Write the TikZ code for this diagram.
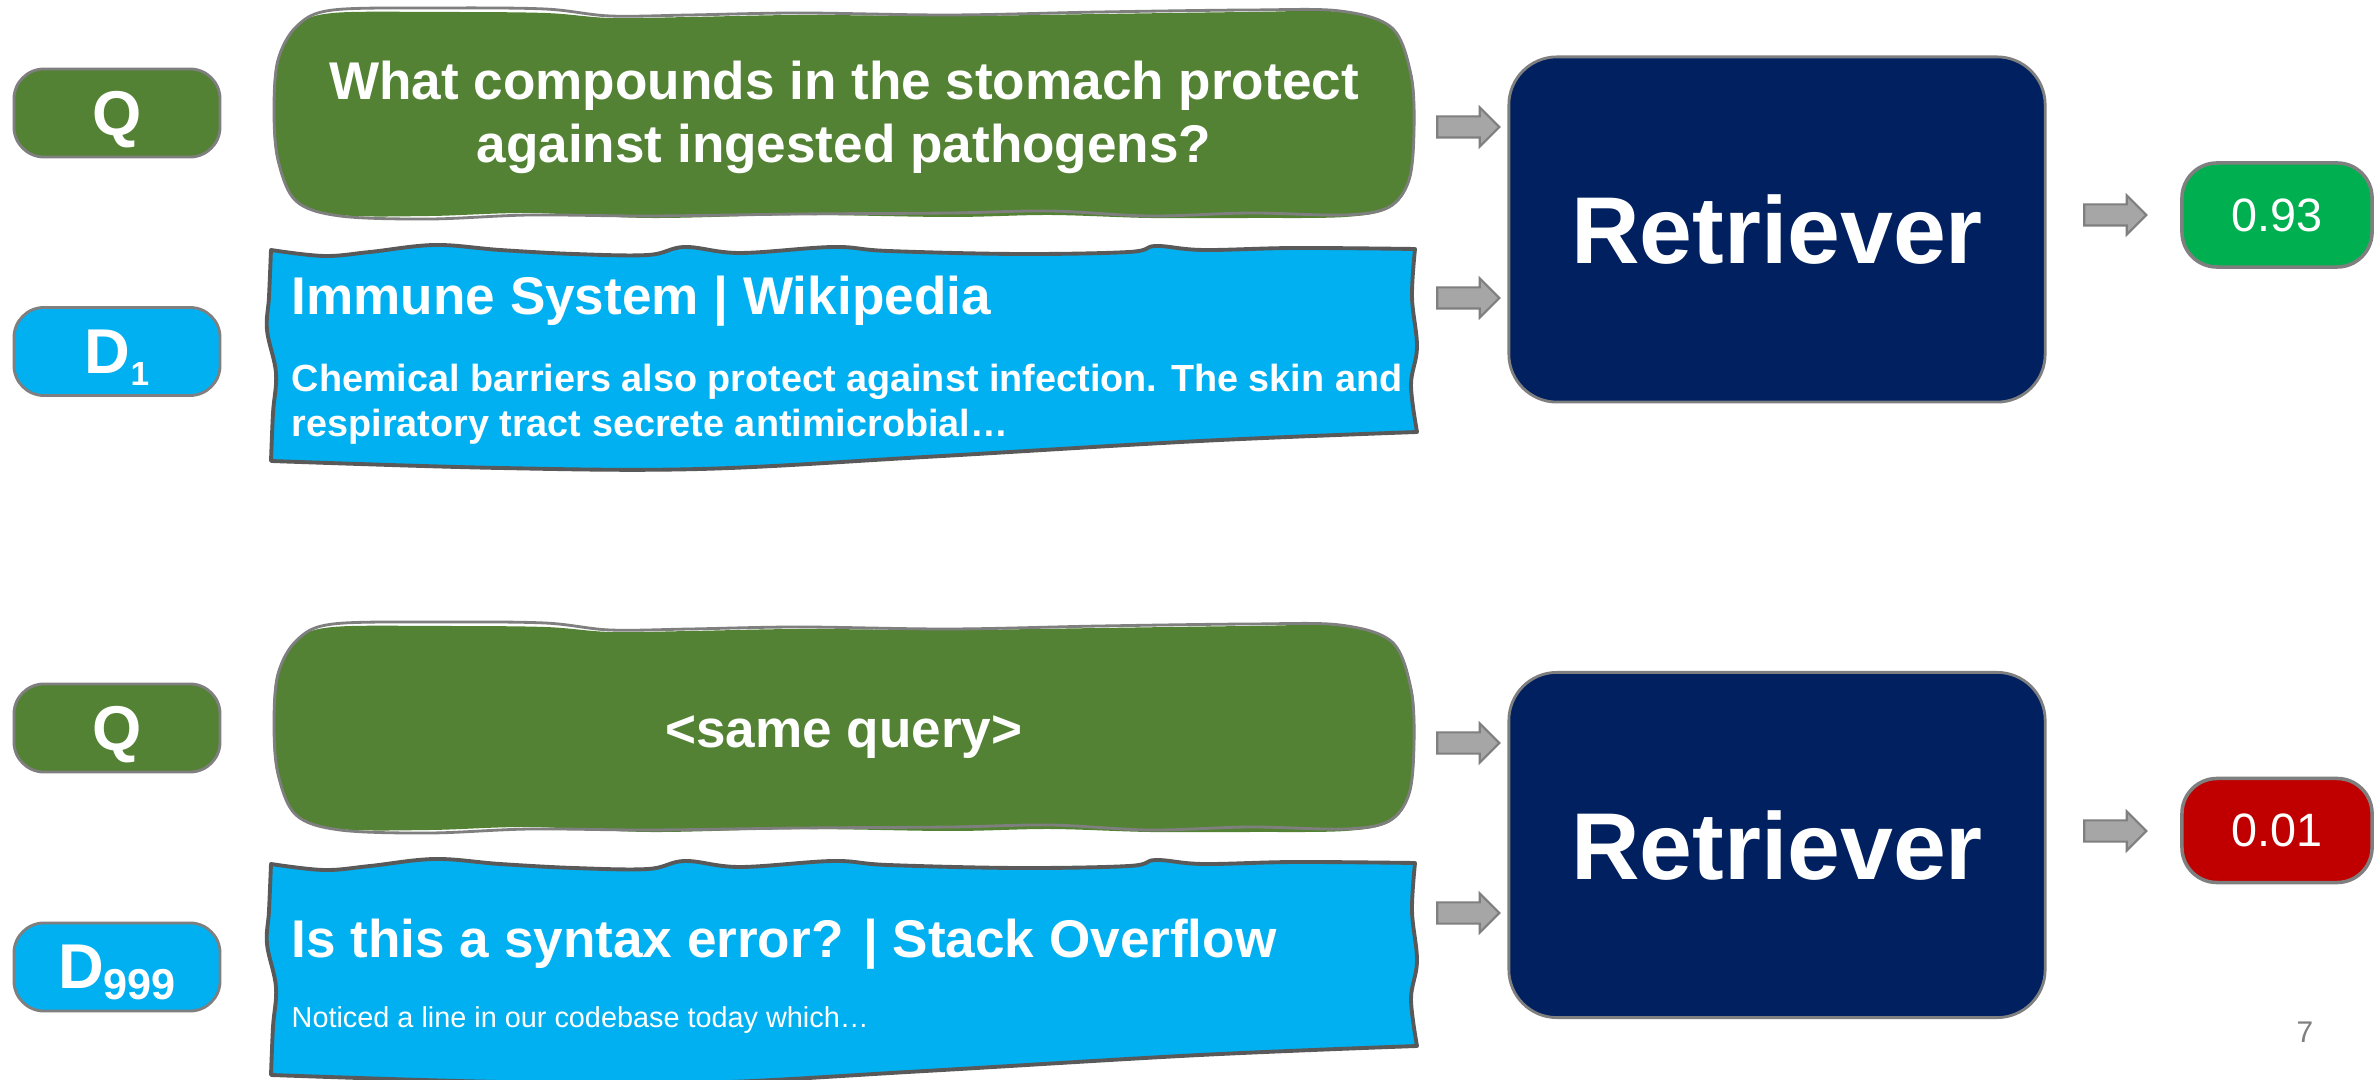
\documentclass[tikz,border=0pt]{standalone}
\usepackage{fontspec}
\setmainfont{Liberation Sans}
\usetikzlibrary{shapes.arrows}

\definecolor{qgreen}{HTML}{548235}
\definecolor{dblue}{HTML}{00B0F0}
\definecolor{navy}{HTML}{002060}
\definecolor{hiscore}{HTML}{00B050}
\definecolor{loscore}{HTML}{C00000}
\definecolor{rimgray}{HTML}{7F7F7F}
\definecolor{darkrim}{HTML}{595959}
\definecolor{arrowgray}{HTML}{A6A6A6}

\newcommand\fsz[2]{\fontsize{#1}{#2}\selectfont}

% hand-drawn query bubble: a filled blob with a slightly offset pencil outline
\newcommand\querybubble{%
  \fill[qgreen] plot[smooth cycle,tension=0.55] coordinates {
    (333,13) (440,12) (545,13) (610,18) (690,17) (800,15) (950,16) (1100,14)
    (1250,12) (1340,12) (1392,29) (1412,75) (1415,130) (1410,180) (1390,208)
    (1345,217) (1250,218) (1150,218) (1050,215) (950,217) (800,215) (650,218)
    (530,213) (430,216) (340,215) (296,200) (277,160) (273,110) (277,60) (296,26)};
  \draw[rimgray,line width=0.8pt] plot[smooth cycle,tension=0.55] coordinates {
    (333,10) (440,8) (545,9) (610,16) (690,15) (800,13) (950,15) (1100,12)
    (1250,10) (1340,11) (1392,28) (1411,75) (1414,130) (1409,180) (1389,207)
    (1345,215) (1250,213) (1150,216) (1050,211) (950,213) (800,214) (650,216)
    (530,215) (430,219) (340,216) (296,201) (278,160) (274,110) (278,60) (297,26)};
}

% document sheet with a wavy top edge and a curved lower edge
\newcommand\docsheet{%
  \path[fill=dblue,draw=darkrim,line width=1.1pt,line join=round]
    plot[smooth,tension=0.6] coordinates {
      (271,250) (324,256) (370,252) (435,245) (500,250) (574,254) (648,255)
      (685,247) (740,253) (833,247) (888,251) (1018,254) (1129,252) (1156,246)
      (1203,250) (1295,248) (1415,249)}
    -- plot[smooth,tension=0.6] coordinates {
      (1415,249) (1412,297) (1417,347) (1411,385) (1417,432)}
    -- plot[smooth,tension=0.6] coordinates {
      (1417,432) (1200,441) (925,457) (700,469) (500,468) (271,461)}
    -- plot[smooth,tension=0.6] coordinates {
      (271,461) (273,413) (276,373) (267,330) (269,297) (271,250)}
    -- cycle;
}

\tikzset{
  tag/.style={draw=rimgray, line width=0.8pt, rounded corners=0.3cm,
    minimum width=2.06cm, minimum height=0.88cm, inner sep=0pt,
    text=white, font=\bfseries\fsz{18}{20}, text depth=0pt},
  retr/.style={fill=navy, draw=rimgray, line width=0.8pt, rounded corners=0.48cm,
    minimum width=5.36cm, minimum height=3.45cm, inner sep=0pt,
    text=white, font=\bfseries\fsz{27}{30}, text depth=0pt},
  score/.style={draw=rimgray, line width=1pt, rounded corners=0.35cm,
    minimum width=1.9cm, minimum height=1.04cm, inner sep=0pt,
    text=white, font=\fsz{13.3}{15}, text depth=0pt},
  garrow/.style={single arrow, fill=arrowgray, draw=rimgray, line width=0.6pt,
    minimum height=0.62cm, minimum width=0.37cm, inner sep=0.095cm,
    single arrow head extend=0.09cm, single arrow head indent=0pt},
  qtext/.style={align=center, inner sep=0pt, text=white, font=\bfseries\fsz{15.1}{17.9}},
  doctitle/.style={anchor=base west, inner sep=0pt, text=white, font=\bfseries\fsz{15.1}{17.9}},
  docbody/.style={align=left, inner sep=0pt, text=white, font=\bfseries\fsz{10.75}{12.8}},
  docplain/.style={anchor=base west, inner sep=0pt, text=white, font=\fsz{8.2}{10}},
}

\begin{document}
\begin{tikzpicture}[x=0.01cm,y=-0.01cm]
\path[use as bounding box, fill=white] (0,0) rectangle (2379,1080);

% sketchy shapes of both rows
\querybubble
\docsheet
\begin{scope}[shift={(0,614)}]
  \querybubble
  \docsheet
\end{scope}

% ---- relevant document row
\node[tag, fill=qgreen] (qtag1) at (117,113) {Q};
\node[tag, fill=dblue] (dtag1) at (117,351.5) {D\raisebox{-0.12cm}{\fsz{9.5}{10}1}};
\node[qtext] (qry1) at (844,117) {What compounds in the stomach protect\\against ingested pathogens?};
\node[doctitle] (dtitle1) at (291,315) {Immune System | Wikipedia};
\node[docbody, anchor=west] (dbody1) at (291,404.7)
  {Chemical barriers also protect against infection. The skin and\\respiratory tract secrete antimicrobial…};
\node[retr] (ret1) at (1777,229.5) {Retriever};
\node[garrow] (inq1) at (1463,127) {};
\node[garrow] (ind1) at (1463,298) {};
\node[garrow] (out1) at (2110,215) {};
\node[score, fill=hiscore] (sc1) at (2277,215) {0.93};

% ---- irrelevant document row
\node[tag, fill=qgreen] (qtag2) at (117,728) {Q};
\node[tag, fill=dblue] (dtag2) at (117,967) {D\raisebox{-0.11cm}{\fsz{12.3}{13}999}};
\node[qtext, anchor=base] (qry2) at (844,748) {<same query>};
\node[doctitle] (dtitle2) at (291,958) {Is this a syntax error? | Stack Overflow};
\node[docplain] (dbody2) at (291,1027) {Noticed a line in our codebase today which…};
\node[retr] (ret2) at (1777,845) {Retriever};
\node[garrow] (inq2) at (1463,743) {};
\node[garrow] (ind2) at (1463,913) {};
\node[garrow] (out2) at (2110,831) {};
\node[score, fill=loscore] (sc2) at (2277,830.5) {0.01};

% slide number
\node[anchor=base, inner sep=0pt, text=rimgray, font=\fsz{8.5}{10}] (pnum) at (2305,1042) {7};
\end{tikzpicture}
\end{document}
